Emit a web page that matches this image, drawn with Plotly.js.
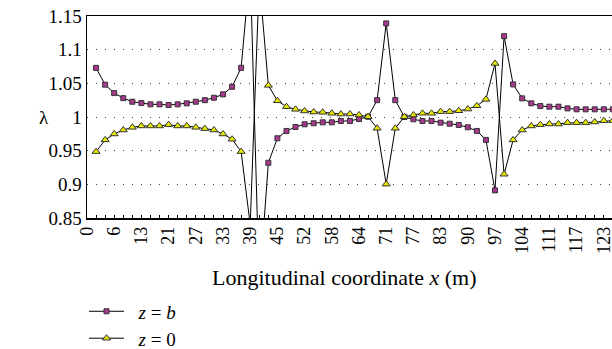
<!DOCTYPE html>
<html>
<head>
<meta charset="utf-8">
<script src="https://cdn.plot.ly/plotly-3.0.1.min.js"></script>
<style>
html,body{margin:0;padding:0;overflow:hidden;background:#fff;width:612px;height:349px;}
#chart{width:631px;height:349px;}
</style>
</head>
<body>
<div id="chart"></div>
<script>
// station index along the beam (uniform spacing on the category axis)
const stationIndex = [0,1,2,3,4,5,6,7,8,9,10,11,12,13,14,15,16,17,18,19,20,21,22,23,24,25,26,27,28,29,30,31,32,33,34,35,36,37,38,39,40,41,42,43,44,45,46,47,48,49,50,51,52,53,54,55,56,57,58,59];
// tick label positions (every third station) and their labels
const tickIndex = [0,3,6,9,12,15,18,21,24,27,30,33,36,39,42,45,48,51,54,57];
const tickLabels = ['0','6','13','21','27','33','39','45','52','58','64','71','77','83','90','97','104','111','117','123'];

// lambda at z = b
const lambdaZb = [null,1.073,1.048,1.0355,1.028,1.0227,1.0207,1.0188,1.0188,1.0178,1.0188,1.0203,1.0227,1.025,
  1.0286,1.0336,1.0449,1.073,1.222,0.746,
  0.932,0.9684,0.9793,0.9852,0.9892,0.9907,0.9921,0.9921,0.9941,0.9941,0.997,
  1.0004,1.025,1.139,1.025,1.0,
  0.9966,0.9941,0.9941,0.9916,0.990,0.9882,0.9847,0.9793,0.966,
  0.891,1.12,
  1.0484,1.0277,1.0203,1.0163,1.0153,1.0153,1.0128,1.0114,1.0114,1.0114,1.0114,1.0114,1.0114];
// lambda at z = 0
const lambdaZ0 = [null,0.9486,0.966,0.9748,0.9807,0.9847,0.9867,0.9867,0.9867,0.9886,0.9867,0.9867,0.9847,0.9827,
  0.9807,0.9748,0.967,0.9486,0.84,1.204,
  1.047,1.0241,1.0153,1.0114,1.0089,1.0074,1.007,1.0055,1.0044,1.0044,1.003,
  1.0004,0.9833,0.9003,0.9833,1.0004,
  1.003,1.0055,1.0055,1.008,1.008,1.0093,1.0118,1.0167,1.0262,
  1.0795,0.915,
  0.966,0.9807,0.9867,0.9886,0.9896,0.9896,0.9916,0.9916,0.9916,0.9926,0.9945,0.9945,0.9945];

const allTickVals = stationIndex.concat([60]);
const allTickText = allTickVals.map(v => {
  const k = tickIndex.indexOf(v);
  return k >= 0 ? tickLabels[k] : '';
});

const FONT = 'Liberation Serif';

const traces = [
  {
    x: stationIndex, y: lambdaZb, name: '\u2002<i>z</i> = <i>b</i>', type: 'scatter', mode: 'lines+markers',
    line: {color: '#000', width: 1},
    marker: {symbol: 'square', size: 5, color: '#a8398e', line: {color: '#333', width: 1}},
    connectgaps: false, legend: 'legend'
  },
  {
    x: stationIndex, y: lambdaZ0, name: '\u2002<i>z</i> = 0', type: 'scatter', mode: 'lines+markers',
    line: {color: '#000', width: 1},
    marker: {symbol: 'triangle-up', size: 7, color: '#e8e800', line: {color: '#333', width: 1}},
    connectgaps: false, legend: 'legend2'
  }
];

const legendBase = {
  x: -0.0055, xanchor: 'left', yanchor: 'middle',
  font: {family: FONT, size: 19, color: '#000'},
  bgcolor: 'rgba(0,0,0,0)', borderwidth: 0,
  tracegroupgap: 0, itemwidth: 35
};

const layout = {
  width: 631, height: 349,
  margin: {l: 87, r: 0, t: 16, b: 131, pad: 0, autoexpand: false},
  paper_bgcolor: '#fff', plot_bgcolor: '#fff',
  font: {family: FONT, size: 18, color: '#000'},
  showlegend: true,
  legend: Object.assign({}, legendBase, {y: (218.3 - 312) / 202.6}),
  legend2: Object.assign({}, legendBase, {y: (218.3 - 339) / 202.6}),
  xaxis: {
    range: [0, 60], autorange: false,
    tickmode: 'array', tickvals: allTickVals, ticktext: allTickText,
    tickangle: -90, ticks: 'inside', ticklen: 3, tickwidth: 1, tickcolor: '#000',
    tickfont: {family: FONT, size: 18, color: '#000'},
    showgrid: false, zeroline: false,
    showline: true, linecolor: '#000', linewidth: 1.5, mirror: true
  },
  yaxis: {
    range: [0.85, 1.15], autorange: false,
    tickmode: 'linear', tick0: 0.85, dtick: 0.05,
    ticks: '', ticklabelstandoff: 0,
    tickfont: {family: FONT, size: 19, color: '#000'},
    showgrid: true, gridcolor: '#444', gridwidth: 1, griddash: '1px,8px',
    zeroline: false,
    showline: true, linecolor: '#000', linewidth: 1.5, mirror: true
  },
  annotations: [
    {
      text: 'Longitudinal coordinate <i>x</i> (m)', xref: 'paper', yref: 'paper',
      x: (344 - 87) / 544, y: (218.3 - 278) / 202.6, xanchor: 'center', yanchor: 'middle',
      showarrow: false, font: {family: FONT, size: 22, color: '#000'}
    },
    {
      text: 'λ', xref: 'paper', yref: 'paper',
      x: (44 - 87) / 544, y: 0.5, xanchor: 'center', yanchor: 'middle',
      showarrow: false, font: {family: FONT, size: 19, color: '#000'}
    }
  ]
};

Plotly.newPlot('chart', traces, layout, {displayModeBar: false, staticPlot: true});
</script>
</body>
</html>
